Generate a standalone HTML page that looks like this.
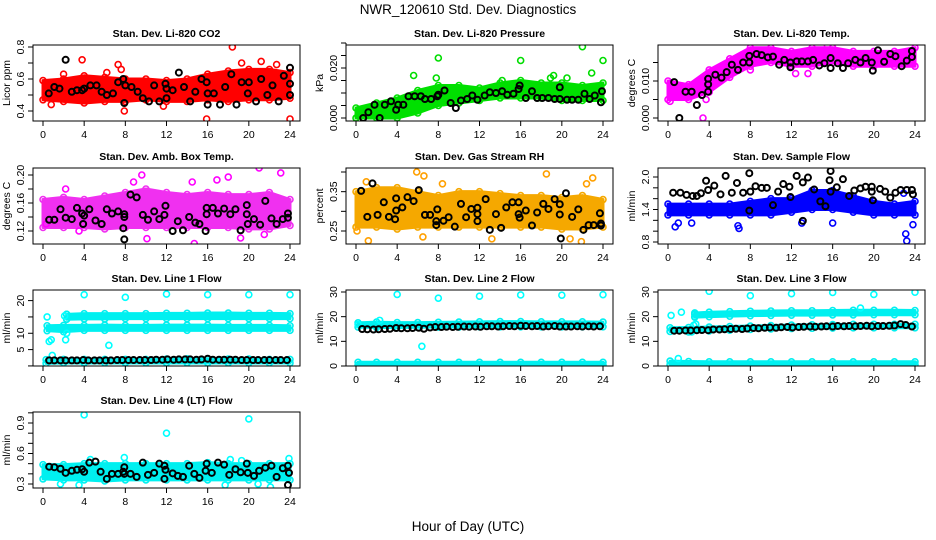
<!DOCTYPE html>
<html><head><meta charset="utf-8"><style>
html,body{margin:0;padding:0;background:#fff;}
svg{display:block;font-family:"Liberation Sans",Arial,sans-serif;}
</style></head><body>
<svg id="chart" width="936" height="540" viewBox="0 0 936 540">
<text x="468" y="14" text-anchor="middle" font-size="13.5">NWR_120610  Std. Dev. Diagnostics</text>
<text x="468" y="531" text-anchor="middle" font-size="13.5">Hour of Day (UTC)</text>
</svg>
<script>
const xTicks = [0,4,8,12,16,20,24];
const bandHours = [0,2,4,6,8,10,12,14,16,18,20,22,24];
const flowHours = [0.6,1.1,1.7,2.2,2.8,3.3,3.9,4.4,5.0,5.5,6.1,6.6,7.2,7.7,8.3,8.8,9.4,9.9,10.5,11.0,11.6,12.1,12.7,13.2,13.8,14.3,14.9,15.4,16.0,16.5,17.1,17.6,18.2,18.7,19.3,19.8,20.4,20.9,21.5,22.0,22.6,23.1,23.7];

// CO2
const co2Lo = [0.47,0.46,0.45,0.46,0.46,0.47,0.46,0.46,0.47,0.46,0.47,0.47,0.48];
const co2Hi = [0.59,0.60,0.62,0.61,0.60,0.60,0.59,0.60,0.63,0.65,0.66,0.66,0.64];
const co2Out = [[3.8,0.72],[7.3,0.69],[18.4,0.8],[15.9,0.35],[24,0.35],[0.8,0.44],[7.9,0.40],[11.7,0.43],[21.2,0.71],[19.3,0.70],[22.7,0.69],[2,0.63],[6.2,0.64],[7.6,0.66]];
const co2Black = [[2.2,0.72],[0.56,0.51],[1.1,0.55],[1.6,0.54],[2.8,0.52],[3.3,0.53],[3.8,0.53],[4,0.54],[4.6,0.56],[5.2,0.56],[5.7,0.52],[6.2,0.5],[6.8,0.51],[7.3,0.58],[7.8,0.6],[7.9,0.45],[8,0.56],[8.6,0.55],[9.2,0.52],[9.7,0.48],[10.3,0.46],[10.8,0.56],[11.3,0.46],[11.9,0.57],[12,0.48],[12,0.54],[12.6,0.53],[13.2,0.64],[13.7,0.55],[14.3,0.46],[14.8,0.52],[15.4,0.6],[15.9,0.58],[16,0.44],[16,0.51],[16.6,0.51],[17.2,0.44],[17.7,0.55],[18.3,0.63],[18.8,0.44],[19.3,0.58],[19.9,0.51],[20,0.58],[20.7,0.46],[21.2,0.6],[21.8,0.5],[22.3,0.56],[22.9,0.46],[23.4,0.62],[24,0.67],[24,0.57],[24,0.5]];

// Pressure
const prLo = [0.000,0.000,0.000,0.002,0.005,0.006,0.007,0.008,0.008,0.008,0.007,0.007,0.007];
const prHi = [0.004,0.006,0.008,0.011,0.013,0.013,0.012,0.014,0.015,0.014,0.014,0.013,0.014];
const prOut = [[8,0.024],[16,0.023],[22,0.0285],[24,0.023],[5.6,0.017],[7.8,0.016],[19.2,0.017],[22.9,0.018],[20.5,0.016],[14.2,0.015],[18.9,0.016]];
const prBlack = [[0.7,0],[1.2,0.0023],[1.8,0.0053],[2.3,0],[2.8,0.0053],[3.4,0.0067],[3.9,0.0033],[4.1,0.0053],[4.6,0.0053],[5.1,0.0087],[5.7,0.0087],[6.3,0.0087],[6.7,0.0076],[7.3,0.0076],[7.9,0.0087],[8,0.0093],[8.6,0.011],[9.2,0.006],[9.7,0.004],[10.2,0.007],[10.8,0.0076],[11.3,0.009],[11.8,0.0073],[12.5,0.009],[13,0.0103],[13.6,0.01],[14.2,0.0107],[14.7,0.0093],[15.3,0.0097],[15.8,0.0116],[15.9,0.013],[16.5,0.008],[17.1,0.0107],[17.6,0.008],[18.1,0.008],[18.7,0.008],[19.3,0.0076],[19.8,0.0123],[19.8,0.0076],[20.5,0.0073],[21,0.0073],[21.6,0.0073],[22.2,0.0097],[22.7,0.0076],[23.2,0.009],[23.9,0.0107],[23.8,0.0063]];

// Li-820 temp
const tLo = [0.005,0.005,0.007,0.011,0.014,0.015,0.014,0.014,0.015,0.014,0.014,0.014,0.014];
const tHi = [0.010,0.009,0.013,0.016,0.019,0.019,0.018,0.019,0.019,0.018,0.018,0.018,0.019];
const tOut = [[0.2,0.0045],[3.4,0],[3.7,0.005],[13.6,0.012],[12.4,0.012],[8,0.013],[15.5,0.0195]];
const tBlack = [[0.6,0.0097],[1.7,0.0071],[2.3,0.0071],[1.1,0],[2.8,0.0035],[3.3,0.0062],[3.9,0.0106],[3.9,0.0091],[3.9,0.0071],[4.6,0.0117],[5.2,0.0109],[5.7,0.0124],[6.2,0.0144],[6.8,0.013],[7.3,0.015],[7.9,0.015],[7.9,0.0168],[8.6,0.0173],[9.1,0.017],[9.7,0.0164],[10.2,0.0166],[10.8,0.0144],[11.3,0.0157],[11.9,0.015],[11.9,0.0137],[12.5,0.0153],[13,0.0153],[13.6,0.0153],[14.1,0.0157],[14.7,0.0142],[15.2,0.0148],[15.8,0.0162],[15.8,0.0135],[16.5,0.0148],[17,0.0135],[17.5,0.0148],[18.2,0.0157],[18.7,0.015],[19.2,0.0162],[19.8,0.015],[19.9,0.0128],[20.4,0.0183],[21,0.0152],[21.6,0.0173],[22.1,0.0167],[22.7,0.014],[23.2,0.0155],[23.7,0.0181],[23.7,0.0165]];

// Amb box temp
const aLo = [0.125,0.125,0.125,0.123,0.125,0.125,0.125,0.125,0.125,0.125,0.123,0.123,0.128];
const aHi = [0.165,0.168,0.165,0.170,0.175,0.180,0.175,0.172,0.175,0.172,0.172,0.175,0.165];
const aOut = [[21,0.21],[23.1,0.203],[14.7,0.102],[19.2,0.11],[21.5,0.115],[9.6,0.2],[16.9,0.193],[2.2,0.18],[0.3,0.13],[3.5,0.12],[10.1,0.109],[18,0.197],[14.5,0.19],[8.8,0.19]];
const aBlack = [[0.6,0.136],[1.1,0.136],[1.7,0.151],[2.2,0.139],[2.8,0.137],[3.3,0.153],[3.8,0.145],[3.9,0.13],[4,0.142],[4.5,0.151],[5.1,0.135],[5.7,0.13],[6.2,0.151],[6.7,0.145],[7.3,0.148],[7.8,0.124],[7.9,0.108],[7.9,0.14],[7.9,0.144],[8.5,0.172],[9.1,0.168],[9.7,0.143],[10.2,0.136],[10.8,0.148],[11.3,0.137],[11.8,0.143],[11.9,0.156],[12.6,0.12],[13.1,0.134],[13.6,0.121],[14.2,0.14],[14.8,0.132],[15.2,0.13],[15.8,0.12],[15.9,0.144],[15.9,0.153],[16.5,0.153],[17,0.145],[17.6,0.152],[18.2,0.144],[18.7,0.151],[19.2,0.121],[19.8,0.157],[19.8,0.144],[19.9,0.13],[20.5,0.137],[21.1,0.129],[21.6,0.163],[22.2,0.138],[22.7,0.13],[23.3,0.137],[23.8,0.139],[23.8,0.145]];

// RH
const rhLo = [0.26,0.26,0.255,0.26,0.26,0.26,0.26,0.26,0.26,0.26,0.255,0.255,0.26];
const rhHi = [0.35,0.36,0.36,0.35,0.34,0.35,0.35,0.345,0.34,0.34,0.335,0.34,0.33];
const rhOut = [[5.9,0.40],[18.5,0.395],[6.6,0.39],[23,0.385],[1.2,0.225],[21.9,0.223],[13.2,0.23],[20.8,0.23],[0.1,0.25],[6.5,0.235],[1,0.375],[22.4,0.37],[8.4,0.37]];
const rhBlack = [[0.5,0.352],[1.1,0.286],[1.6,0.371],[2.1,0.291],[2.7,0.323],[3.2,0.286],[3.8,0.28],[3.9,0.333],[3.9,0.302],[4.5,0.31],[5,0.336],[5.6,0.326],[6.1,0.354],[6.7,0.291],[7.2,0.291],[7.8,0.275],[7.8,0.265],[7.9,0.305],[8.5,0.276],[9,0.285],[9.6,0.261],[10.2,0.319],[10.7,0.285],[11.2,0.306],[11.8,0.309],[11.8,0.293],[11.8,0.275],[12.6,0.331],[13,0.253],[13.6,0.293],[14.1,0.258],[14.6,0.31],[15.2,0.323],[15.8,0.323],[15.8,0.293],[15.9,0.284],[16.5,0.302],[17.1,0.264],[17.6,0.297],[18.2,0.319],[18.7,0.306],[19.3,0.331],[19.8,0.318],[19.8,0.292],[19.9,0.231],[20.4,0.346],[21,0.286],[21.6,0.305],[22.1,0.253],[22.6,0.265],[23.1,0.265],[23.7,0.295],[23.8,0.269],[23.8,0.264]];

// Sample flow
const sfLo = [1.30,1.30,1.30,1.30,1.30,1.30,1.35,1.40,1.40,1.35,1.30,1.30,1.30];
const sfHi = [1.50,1.50,1.50,1.50,1.55,1.60,1.60,1.75,1.75,1.65,1.55,1.50,1.55];
const sfOut = [[23.2,0.82],[23.1,0.95],[0.7,1.08],[6.8,1.1],[16,1.15],[23.8,1.12],[2.3,1.15],[13,1.15],[22.9,1.7],[1,1.15],[6.9,1.05]];
const sfBlack = [[0.5,1.71],[1.2,1.71],[1.8,1.67],[2.4,1.65],[2.8,1.65],[3.2,1.7],[3.7,1.93],[3.9,1.76],[4.5,1.84],[5.1,1.68],[5.6,2.02],[6.2,1.71],[6.7,1.89],[7.3,1.71],[7.9,2.07],[7.9,1.38],[8,1.73],[8.5,1.83],[9.1,1.8],[9.6,1.8],[10.2,1.48],[10.7,1.73],[11.2,1.87],[11.8,1.82],[11.9,1.63],[12.5,2.02],[13.1,1.19],[13.1,1.9],[13.6,1.99],[14.2,1.77],[14.8,1.55],[15.3,1.46],[15.7,1.94],[15.8,1.73],[15.8,2.11],[16.4,1.81],[17,1.96],[17.6,1.65],[18.1,1.75],[18.7,1.79],[19.2,1.82],[19.8,1.82],[19.8,1.73],[19.9,1.57],[20.6,1.78],[21.1,1.73],[21.6,1.62],[22.1,1.71],[22.6,1.76],[23.2,1.76],[23.7,1.76],[23.8,1.68]];

// Line 1 flow
const l1aLo = [14.3,14.3,14.4,14.4,14.5,14.5,14.5,14.5,14.5,14.5,14.5,14.5,14.5];
const l1aHi = [15.8,15.8,16.0,16.0,16.0,16.0,16.1,16.1,16.2,16.2,16.1,16.1,16.0];
const l1bLo = [10.8,10.5,10.9,10.9,10.9,10.9,10.9,10.9,10.9,10.9,10.9,10.9,10.9];
const l1bHi = [12.3,12.4,12.4,12.5,12.4,12.4,12.5,12.5,12.5,12.4,12.4,12.4,12.3];
const l1cLo = [0.8,0.9,0.9,0.9,0.9,0.9,0.9,0.9,0.9,0.9,0.9,0.9,0.9];
const l1cHi = [1.9,2.0,2.0,2.0,2.0,2.0,2.1,2.2,2.2,2.1,2.1,2.0,2.0];
const l1Out = [[4,21.8],[8,21],[12,22],[16,21.8],[20,21.8],[24,21.8],[0.6,7.5],[0.8,8],[0.9,3.2],[2.2,8],[6.4,6.3],[0.4,15],[2.1,15.3],[2.3,10]];
const l1Black = [1.7,1.7,1.7,1.7,1.7,1.7,1.8,1.7,1.7,1.7,1.7,1.7,1.8,1.8,1.8,1.8,1.8,1.8,1.8,1.9,1.9,2.0,1.9,2.0,2.0,2.0,1.9,2.0,2.2,1.9,1.9,1.9,1.9,1.9,1.8,1.8,1.8,1.8,1.8,1.8,1.8,1.8,1.8];

// Line 2 flow
const l2aLo = [15.8,15.6,15.6,15.7,15.8,15.8,15.9,15.9,15.9,15.9,15.9,15.9,15.9];
const l2aHi = [17.5,17.8,17.6,17.6,17.7,17.8,17.9,18.0,18.0,17.9,17.9,17.9,17.8];
const l2bLo = [0.4,0.4,0.4,0.4,0.4,0.4,0.4,0.4,0.4,0.4,0.4,0.4,0.4];
const l2bHi = [1.5,1.5,1.5,1.5,1.5,1.5,1.5,1.5,1.5,1.5,1.5,1.5,1.5];
const l2Out = [[4,29],[8,27.5],[12,28.3],[16,28.8],[20,28.7],[24,28.9],[6.4,8],[0.2,16.8],[2.3,18.5]];
const l2Black = [15.0,14.9,14.8,14.9,15.0,15.1,15.4,15.3,15.3,15.4,15.5,15.1,15.6,15.8,15.8,15.9,15.8,15.9,16.0,15.9,16.0,15.9,16.1,16.1,16.0,16.1,16.2,16.1,16.3,16.2,16.1,16.2,16.0,16.1,16.2,16.0,16.0,16.0,16.1,16.0,16.1,16.0,16.1];

// Line 3 flow
const l3aLo = [20.0,19.8,20.0,20.2,20.4,20.5,20.6,20.6,20.7,20.7,20.8,20.8,20.8];
const l3aHi = [21.0,21.5,21.8,22.0,22.2,22.3,22.4,22.4,22.5,22.6,22.6,22.6,22.5];
const l3bLo = [14.0,13.8,14.2,14.5,14.8,15.0,15.2,15.3,15.4,15.5,15.5,15.5,15.5];
const l3bHi = [15.5,15.6,15.8,16.0,16.2,16.4,16.6,16.7,16.8,16.9,16.9,16.9,16.9];
const l3cLo = [0.5,0.6,0.6,0.6,0.6,0.6,0.6,0.6,0.6,0.6,0.6,0.6,0.6];
const l3cHi = [2.0,1.8,1.7,1.7,1.7,1.7,1.7,1.7,1.7,1.7,1.7,1.7,1.7];
const l3Out = [[4,30.3],[8,28.5],[12,29.3],[16,29.8],[20,29],[24,29.9],[1,3],[1.3,21.8],[2.5,16.5],[2.3,13.8],[0.3,20.5],[18.7,23.5],[2.7,17]];
const l3Black = [14.3,14.3,14.4,14.4,14.5,14.6,14.5,14.8,14.8,14.9,15.0,15.1,15.0,15.2,15.4,15.3,15.5,15.6,15.5,15.7,15.8,15.6,15.8,15.9,16.0,15.9,16.0,16.1,16.0,16.2,16.1,16.2,16.1,16.2,16.3,16.1,16.2,16.2,16.3,16.4,17.0,16.6,16.0];

// Line 4 flow
const l4Lo = [0.35,0.34,0.34,0.33,0.34,0.34,0.34,0.34,0.34,0.34,0.34,0.34,0.34];
const l4Hi = [0.49,0.49,0.50,0.50,0.50,0.50,0.50,0.50,0.51,0.50,0.50,0.50,0.50];
const l4Out = [[4,0.98],[20,0.94],[12,0.8],[22.1,0.27],[1.7,0.3],[3.5,0.29],[17.7,0.29],[7.9,0.56],[23.9,0.55],[4.6,0.54],[18.2,0.54],[19.3,0.53],[20.9,0.3]];
const l4Black = [[0.6,0.47],[1.1,0.465],[1.7,0.45],[2.2,0.41],[2.8,0.43],[3.3,0.44],[3.8,0.445],[4,0.42],[4.5,0.51],[5.1,0.52],[5.6,0.42],[6.2,0.35],[6.7,0.4],[7.3,0.4],[7.8,0.42],[7.9,0.465],[7.9,0.4],[8.5,0.4],[9.1,0.37],[9.7,0.51],[10.2,0.39],[10.8,0.41],[11.3,0.5],[11.8,0.48],[11.8,0.35],[11.9,0.44],[12.6,0.405],[13.1,0.38],[13.6,0.37],[14.2,0.48],[14.7,0.4],[15.2,0.36],[15.8,0.43],[15.9,0.5],[16.4,0.41],[17,0.51],[17.6,0.49],[18.1,0.39],[18.7,0.445],[19.2,0.415],[19.8,0.5],[19.9,0.41],[20.5,0.38],[21,0.43],[21.6,0.46],[22.2,0.48],[22.7,0.37],[23.3,0.455],[23.8,0.48],[23.8,0.29],[23.9,0.41]];

const NS = "http://www.w3.org/2000/svg";
const svg = document.getElementById('chart');
function mk(tag, attrs, parent){ const e=document.createElementNS(NS,tag); for(const k in attrs) e.setAttribute(k,attrs[k]); (parent||svg).appendChild(e); return e; }
function pairs(hours, vals){ return hours.map((h,i)=>[h,vals[i]]); }

function panel(cfg){
  const g = mk('g',{});
  
  
  const L=cfg.left, T=cfg.top, W=267, H=76, B=T+H;
  const xs = h => L + 10 + h*247/24;
  const ys = v => cfg.y1 + (v-cfg.v1)*(cfg.y2-cfg.y1)/(cfg.v2-cfg.v1);
  const clip = 'clip-'+cfg.name;
  const cp = mk('clipPath',{id:clip},g); mk('rect',{x:L,y:T,width:W,height:H},cp);
  const plot = mk('g',{'clip-path':'url(#'+clip+')'},g);
  cfg.bands.forEach(b=>{
    const h0 = b.h0||0;
    const hs = bandHours.map(h=>Math.max(h,h0));
    let pts = hs.map((h,i)=>xs(h)+','+ys(b.hi[i]));
    pts = pts.concat(hs.map((h,i)=>xs(h)+','+ys(b.lo[i])).reverse());
    const p = mk('polygon',{points:pts.join(' '),fill:cfg.fill,stroke:cfg.fill,'stroke-width':3,'stroke-linejoin':'round'},plot);
    
    
    // ragged edge circles along band edges
    hs.forEach((h,i)=>{
      [b.hi[i], b.lo[i]].forEach(v=>{
        const c = mk('circle',{cx:xs(h),cy:ys(v),r:3,fill:'none',stroke:cfg.fill,'stroke-width':1.6},plot);
        
        
      });
    });
  });
  cfg.out.forEach(o=>{
    const c = mk('circle',{cx:xs(o[0]),cy:ys(o[1]),r:3,fill:'none',stroke:cfg.color,'stroke-width':1.6},plot);
    
    
  });
  cfg.black.forEach(o=>{
    const c = mk('circle',{cx:xs(o[0]),cy:ys(o[1]),r:3,fill:'none',stroke:'#000','stroke-width':2},plot);
    
    
  });
  const box = mk('rect',{x:L,y:T,width:W,height:H,fill:'none',stroke:'#000','stroke-width':1},g);
  
  
  mk('line',{x1:xs(0),x2:xs(24),y1:B,y2:B,stroke:'#000'},g);
  xTicks.forEach(t=>{
    mk('line',{x1:xs(t),x2:xs(t),y1:B,y2:B+5,stroke:'#000'},g);
    const tx = mk('text',{x:xs(t),y:B+17,'text-anchor':'middle','font-size':10.5},g);
    tx.textContent = t;
    
    
  });
  const yt = cfg.ticks;
  mk('line',{x1:L,x2:L,y1:ys(yt[0]),y2:ys(yt[yt.length-1]),stroke:'#000'},g);
  yt.forEach(t=>mk('line',{x1:L-5,x2:L,y1:ys(t),y2:ys(t),stroke:'#000'},g));
  cfg.labels.forEach((t,i)=>{
    const x=L-9, y=ys(t);
    const tx = mk('text',{x:x,y:y,'text-anchor':'middle','font-size':10.5,transform:'rotate(-90 '+x+' '+y+')'},g);
    tx.textContent = cfg.labelText[i];
    
    
  });
  const yl = mk('text',{x:L-23,y:T+H/2,'text-anchor':'middle','font-size':10.5,transform:'rotate(-90 '+(L-23)+' '+(T+H/2)+')'},g);
  yl.textContent = cfg.ylab;
  
  
  const ti = mk('text',{x:L+W/2,y:T-8,'text-anchor':'middle','font-size':10.5,'font-weight':'bold'},g);
  ti.textContent = cfg.title;
  
  
}

const C1=33, C2=346, C3=658, R1=45, R2=168, R3=290, R4=412;
panel({name:'co2-panel',title:'Stan. Dev. Li-820 CO2',ylab:'Licor ppm',left:C1,top:R1,v1:0.4,y1:111,v2:0.8,y2:47,
  ticks:[0.4,0.5,0.6,0.7,0.8],labels:[0.4,0.6,0.8],labelText:['0.4','0.6','0.8'],color:'#ff0000',fill:'#ff0000',
  bands:[{lo:co2Lo,hi:co2Hi}],out:co2Out,black:co2Black});
panel({name:'pressure-panel',title:'Stan. Dev. Li-820 Pressure',ylab:'kPa',left:C2,top:R1,v1:0,y1:118,v2:0.02,y2:68,
  ticks:[0,0.005,0.01,0.015,0.02,0.025,0.03],labels:[0,0.02],labelText:['0.000','0.020'],color:'#00dd00',fill:'#00e000',
  bands:[{lo:prLo,hi:prHi}],out:prOut,black:prBlack});
panel({name:'temp-panel',title:'Stan. Dev. Li-820 Temp.',ylab:'degrees C',left:C3,top:R1,v1:0,y1:118,v2:0.01,y2:81,
  ticks:[0,0.005,0.01,0.015],labels:[0,0.01],labelText:['0.000','0.010'],color:'#ff00ff',fill:'#ff00ff',
  bands:[{lo:tLo,hi:tHi}],out:tOut,black:tBlack});
panel({name:'ambient-temp-panel',title:'Stan. Dev. Amb. Box Temp.',ylab:'degrees C',left:C1,top:R2,v1:0.12,y1:231,v2:0.2,y2:175,
  ticks:[0.12,0.14,0.16,0.18,0.2],labels:[0.12,0.16,0.2],labelText:['0.12','0.16','0.20'],color:'#ff00ff',fill:'#f030f0',
  bands:[{lo:aLo,hi:aHi}],out:aOut,black:aBlack});
panel({name:'rh-panel',title:'Stan. Dev. Gas Stream RH',ylab:'percent',left:C2,top:R2,v1:0.25,y1:231,v2:0.4,y2:172,
  ticks:[0.25,0.3,0.35,0.4],labels:[0.25,0.35],labelText:['0.25','0.35'],color:'#ffa000',fill:'#f5a800',
  bands:[{lo:rhLo,hi:rhHi}],out:rhOut,black:rhBlack});
panel({name:'sample-flow-panel',title:'Stan. Dev. Sample Flow',ylab:'ml/min',left:C3,top:R2,v1:0.8,y1:242,v2:2.0,y2:177,
  ticks:[0.8,1.0,1.2,1.4,1.6,1.8,2.0],labels:[0.8,1.4,2.0],labelText:['0.8','1.4','2.0'],color:'#0000ff',fill:'#0000ff',
  bands:[{lo:sfLo,hi:sfHi}],out:sfOut,black:sfBlack});
panel({name:'line1-flow-panel',title:'Stan. Dev. Line 1 Flow',ylab:'ml/min',left:C1,top:R3,v1:5,y1:349.6,v2:20,y2:300.6,
  ticks:[0,5,10,15,20],labels:[5,10,20],labelText:['5','10','20'],color:'#00ffff',fill:'#00f0f0',
  bands:[{lo:l1aLo,hi:l1aHi,h0:2.3},{lo:l1bLo,hi:l1bHi,h0:0.4},{lo:l1cLo,hi:l1cHi,h0:0.3}],out:l1Out,black:pairs(flowHours,l1Black)});
panel({name:'line2-flow-panel',title:'Stan. Dev. Line 2 Flow',ylab:'ml/min',left:C2,top:R3,v1:0,y1:366,v2:30,y2:292,
  ticks:[0,10,20,30],labels:[0,10,20,30],labelText:['0','10','20','30'],color:'#00ffff',fill:'#00f0f0',
  bands:[{lo:l2aLo,hi:l2aHi,h0:0.2},{lo:l2bLo,hi:l2bHi,h0:0.2}],out:l2Out,black:pairs(flowHours,l2Black)});
panel({name:'line3-flow-panel',title:'Stan. Dev. Line 3 Flow',ylab:'ml/min',left:C3,top:R3,v1:0,y1:366,v2:30,y2:292,
  ticks:[0,10,20,30],labels:[0,10,20,30],labelText:['0','10','20','30'],color:'#00ffff',fill:'#00f0f0',
  bands:[{lo:l3aLo,hi:l3aHi,h0:2.6},{lo:l3bLo,hi:l3bHi,h0:0.2},{lo:l3cLo,hi:l3cHi,h0:0.2}],out:l3Out,black:pairs(flowHours,l3Black)});
panel({name:'line4-flow-panel',title:'Stan. Dev. Line 4 (LT) Flow',ylab:'ml/min',left:C1,top:R4,v1:0.3,y1:484,v2:0.9,y2:423,
  ticks:[0.3,0.4,0.5,0.6,0.7,0.8,0.9,1.0],labels:[0.3,0.6,0.9],labelText:['0.3','0.6','0.9'],color:'#00ffff',fill:'#00f0f0',
  bands:[{lo:l4Lo,hi:l4Hi}],out:l4Out,black:l4Black});
</script>
</body></html>
